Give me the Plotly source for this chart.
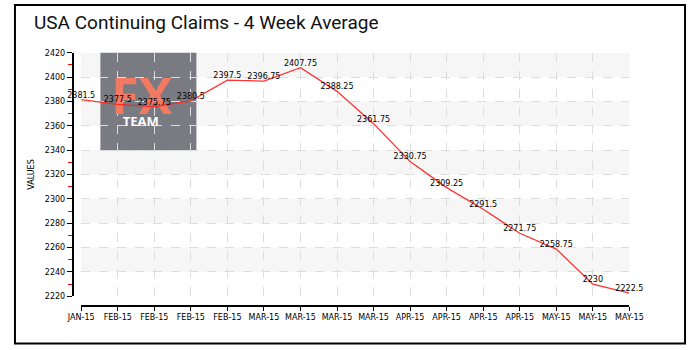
import plotly.graph_objects as go

# Weekly observations (4-week moving average of continuing claims, thousands)
week_labels = ["JAN-15", "FEB-15", "FEB-15", "FEB-15", "FEB-15", "MAR-15", "MAR-15", "MAR-15",
               "MAR-15", "APR-15", "APR-15", "APR-15", "APR-15", "MAY-15", "MAY-15", "MAY-15"]
claims_avg = [2381.5, 2377.5, 2375.75, 2380.5, 2397.5, 2396.75, 2407.75, 2388.25,
              2361.75, 2330.75, 2309.25, 2291.5, 2271.75, 2258.75, 2230, 2222.5]
y_ticks = [2220, 2240, 2260, 2280, 2300, 2320, 2340, 2360, 2380, 2400, 2420]

x_idx = list(range(len(claims_avg)))
label_text = [("%g" % v) for v in claims_avg]

W, H = 700, 350
PLOT_L, PLOT_R, PLOT_T, PLOT_B = 70, 641, 50, 300
px_x = lambda p: p / W
px_y = lambda p: (H - p) / H

# pixel -> data helpers, used only to place the logo lettering inside the plot
x_max = len(claims_avg) - 1
to_dx = lambda p: (p - PLOT_L) * x_max / (PLOT_R - PLOT_L)
to_dy = lambda p: y_ticks[-1] - (p - PLOT_T) * (y_ticks[-1] - y_ticks[0]) / (PLOT_B - PLOT_T)

fig = go.Figure()
# logo lettering sits underneath the series line and its labels
fig.add_trace(go.Scatter(
    x=[to_dx(133)], y=[to_dy(100)], mode="text", text=["FX"],
    textposition="middle center",
    textfont=dict(family="Open Sans", size=50, color="#f27a62", weight="bold"),
    hoverinfo="skip", showlegend=False, cliponaxis=False,
))
fig.add_trace(go.Scatter(
    x=[to_dx(132)], y=[to_dy(122)], mode="text", text=["TEAM"],
    textposition="middle center",
    textfont=dict(family="Open Sans", size=13, color="#ffffff", weight="bold"),
    hoverinfo="skip", showlegend=False, cliponaxis=False,
))
fig.add_trace(go.Scatter(
    x=x_idx, y=claims_avg, mode="lines+text",
    text=label_text, textposition="top center",
    textfont=dict(family="DejaVu Sans", size=8, color="#000"),
    line=dict(color="rgba(255,30,30,0.9)", width=1.3),
    cliponaxis=False, hoverinfo="x+y", showlegend=False,
))

shapes = []
# alternating horizontal bands
for lo, hi in zip(y_ticks[1::2], y_ticks[2::2]):
    shapes.append(dict(type="rect", xref="x domain", yref="y", x0=0, x1=1, y0=lo, y1=hi,
                       fillcolor="#f6f6f6", line=dict(width=0), layer="below"))
shapes.append(dict(type="rect", xref="x domain", yref="y", x0=0, x1=1,
                   y0=y_ticks[-2], y1=y_ticks[-1],
                   fillcolor="#f6f6f6", line=dict(width=0), layer="below"))
# logo block
shapes.append(dict(type="rect", xref="paper", yref="paper",
                   x0=px_x(90), x1=px_x(190), y0=px_y(150), y1=px_y(50),
                   fillcolor="#7a7a82", line=dict(width=0), layer="below"))
# outer frame
shapes.append(dict(type="rect", xref="paper", yref="paper",
                   x0=px_x(1), x1=px_x(699), y0=px_y(348.5), y1=px_y(1),
                   line=dict(color="#000", width=2), fillcolor="rgba(0,0,0,0)"))

fig.update_layout(
    width=W, height=H,
    margin=dict(l=0, r=0, t=0, b=0),
    paper_bgcolor="white", plot_bgcolor="white",
    shapes=shapes,
    title=dict(text="USA Continuing Claims - 4 Week Average",
               x=px_x(34), xanchor="left", y=px_y(22), yanchor="middle",
               font=dict(family="Roboto", size=19, color="#111")),
    xaxis=dict(
        domain=[px_x(PLOT_L), px_x(PLOT_R)], range=[0, x_max],
        anchor="free", position=px_y(310),
        tickvals=x_idx, ticktext=week_labels,
        showline=True, linecolor="#000", linewidth=1.5,
        ticks="outside", ticklen=4, tickcolor="#000",
        showgrid=True, gridcolor="#dddddd", griddash="dash", gridwidth=1,
        zeroline=False,
        tickfont=dict(family="DejaVu Sans", size=8, color="#000"),
    ),
    yaxis=dict(
        domain=[px_y(PLOT_B), px_y(PLOT_T)], range=[y_ticks[0], y_ticks[-1]],
        anchor="free", position=px_x(61),
        tickvals=y_ticks,
        showline=True, linecolor="#000", linewidth=1.5,
        ticks="outside", ticklen=5, tickcolor="#000",
        minor=dict(dtick=20, tick0=2230, ticks="outside", ticklen=4, tickcolor="red", showgrid=False),
        showgrid=True, gridcolor="#dddddd", griddash="dash", gridwidth=1,
        zeroline=False,
        tickfont=dict(family="DejaVu Sans", size=8, color="#000"),
        title=dict(text="VALUES", font=dict(family="DejaVu Sans", size=8, color="#000"), standoff=8),
    ),
)

fig.write_html("out.html")
